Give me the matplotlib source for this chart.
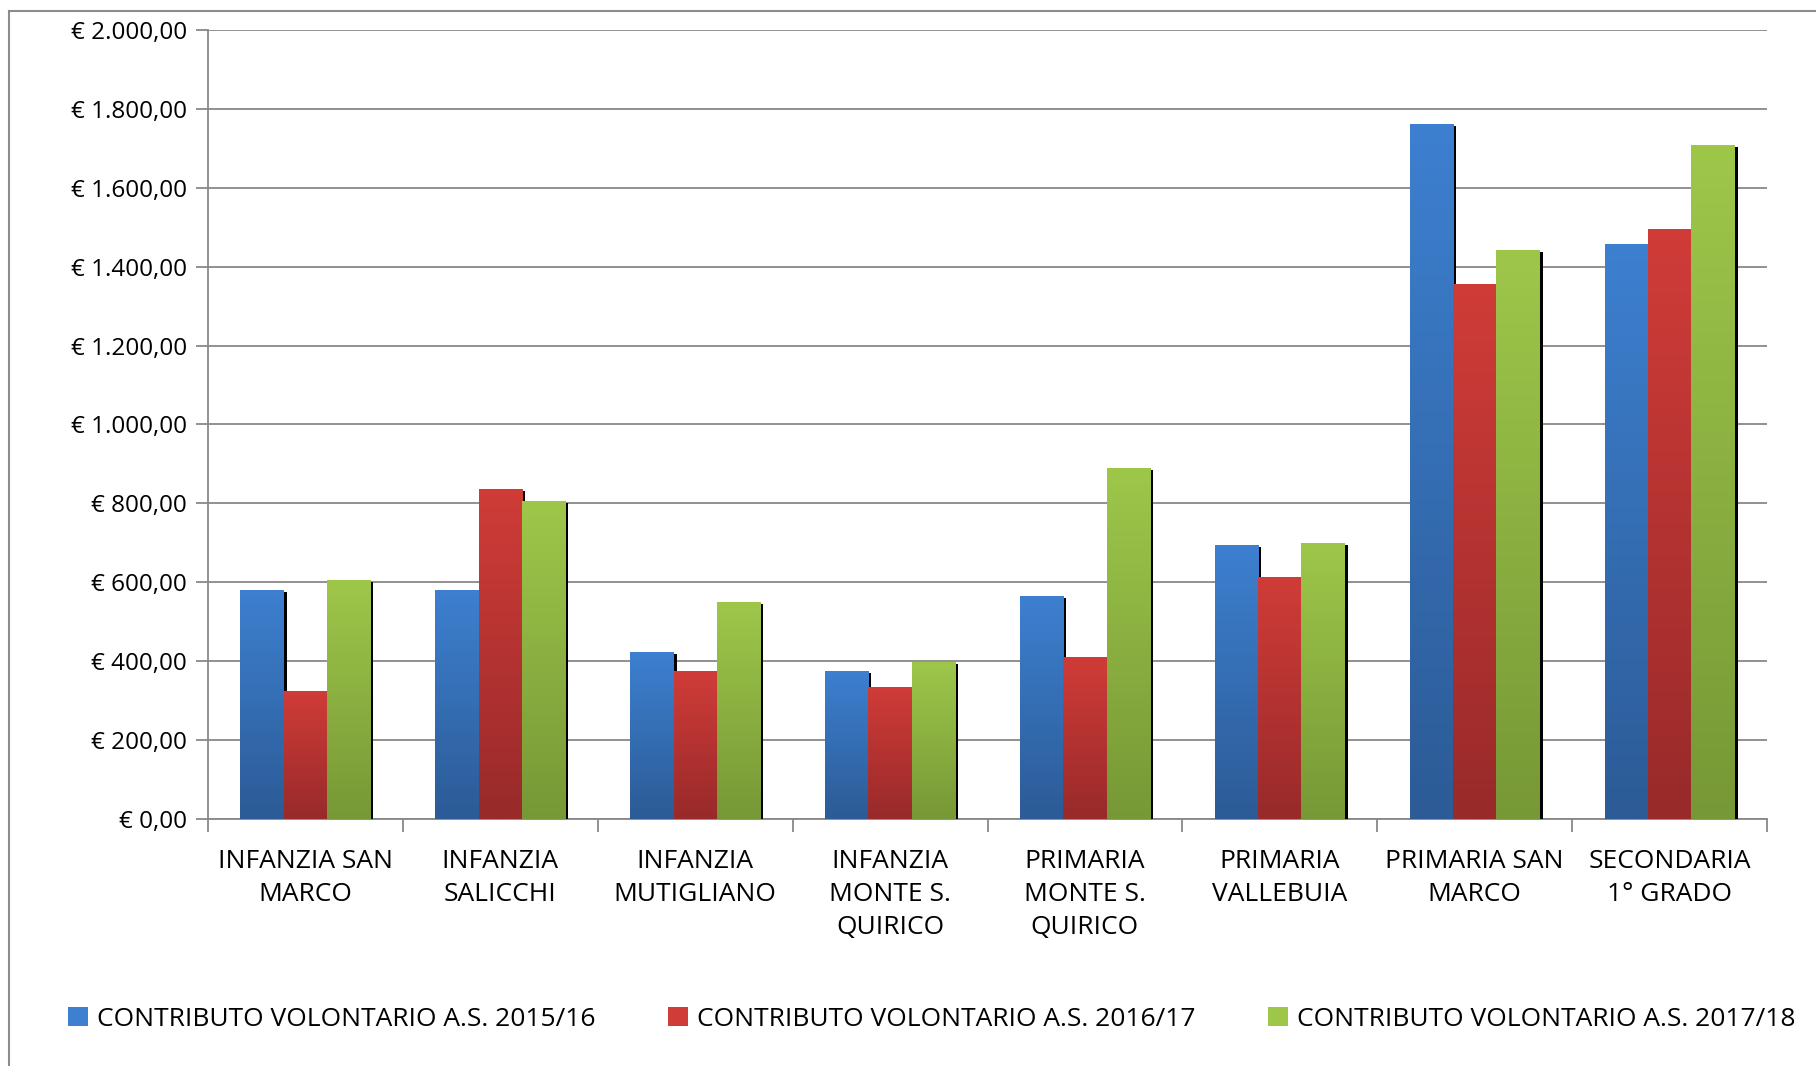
import numpy as np
import matplotlib
matplotlib.use("Agg")
import matplotlib.pyplot as plt
import matplotlib.transforms as mtransforms
from matplotlib.lines import Line2D
from matplotlib.patches import Patch

# Data
categories = ["INFANZIA SAN\nMARCO", "INFANZIA\nSALICCHI", "INFANZIA\nMUTIGLIANO",
              "INFANZIA\nMONTE S.\nQUIRICO", "PRIMARIA\nMONTE S.\nQUIRICO", "PRIMARIA\nVALLEBUIA",
              "PRIMARIA SAN\nMARCO", "SECONDARIA\n1° GRADO"]
seriesNames = ["CONTRIBUTO VOLONTARIO A.S. 2015/16",
               "CONTRIBUTO VOLONTARIO A.S. 2016/17",
               "CONTRIBUTO VOLONTARIO A.S. 2017/18"]
values2015 = [580, 580, 423, 376, 565, 695, 1762, 1458]
values2016 = [323, 837, 376, 335, 411, 614, 1357, 1495]
values2017 = [606, 805, 549, 397, 890, 700, 1443, 1709]
yTicks = [0, 200, 400, 600, 800, 1000, 1200, 1400, 1600, 1800, 2000]

# Colors (top, bottom of gradient)
gradients = [("#3d80d0", "#2c5b96"), ("#d03c38", "#982a2a"), ("#9ec74a", "#779836")]

plt.rcParams['font.family'] = ['Open Sans', 'DejaVu Sans']

fig = plt.figure(figsize=(18.16, 10.66), dpi=100)
ax = fig.add_axes([208/1816, 247.2/1066, (1767-208)/1816, (818.8-30.1)/1066])

# Outer chart border (left and top only visible)
fig.add_artist(Line2D([9/1816, 9/1816], [0, 1-11/1066], transform=fig.transFigure, color="#8c8c8c", lw=1.5))
fig.add_artist(Line2D([9/1816, 1], [1-11/1066, 1-11/1066], transform=fig.transFigure, color="#8c8c8c", lw=1.5))

x = np.arange(len(categories))
width = 1/4.5
allValues = [values2015, values2016, values2017]
shadowShift = ax.transData + mtransforms.ScaledTranslation(0.03, -0.02, fig.dpi_scale_trans)

for j, vals in enumerate(allValues):
	offs = x + (j-1)*width
	top, bottom = gradients[j]
	c0 = np.array(matplotlib.colors.to_rgb(bottom))
	c1 = np.array(matplotlib.colors.to_rgb(top))
	grad = np.linspace(0, 1, 256)[:, None, None]
	img = c0 + (c1-c0)*grad
	ax.bar(offs, vals, width, color="black", transform=shadowShift, zorder=2+2*j)
	bars = ax.bar(offs, vals, width, color=top, zorder=3+2*j, linewidth=0)
	for b in bars:
		x0 = b.get_x()
		h = b.get_height()
		im = ax.imshow(img, extent=(x0, x0+b.get_width(), 0, h), origin='lower',
			aspect='auto', zorder=3+2*j+0.5, interpolation='bilinear')
		im.set_clip_path(b)

ax.set_xlim(-0.5, len(categories)-0.5)
ax.set_ylim(0, 2000)
ax.set_aspect('auto')

# Grid and axes
ax.set_yticks(yTicks)
ax.set_yticklabels([("€ {:,.2f}".format(v)).replace(",", "X").replace(".", ",").replace("X", ".") for v in yTicks])
ax.yaxis.grid(True, color="#888888", lw=1.3)
ax.set_axisbelow(True)
ax.set_xticks(np.arange(len(categories)+1)-0.5)
ax.set_xticklabels([])
ax.set_xticks(x, minor=True)
ax.set_xticklabels(categories, minor=True, fontsize=19, linespacing=1.4)
ax.tick_params(axis='x', which='minor', length=0, pad=22)
ax.tick_params(axis='x', which='major', length=9, color="#888888", width=1.3)
ax.tick_params(axis='y', length=9, color="#888888", width=1.3, labelsize=17.5, pad=6)
for side in ['top', 'right']:
	ax.spines[side].set_visible(False)
for side in ['left', 'bottom']:
	ax.spines[side].set_color("#888888")
	ax.spines[side].set_linewidth(1.3)

# Legend
handles = [Patch(facecolor=gradients[j][0], edgecolor='none') for j in range(3)]
fig.legend(handles, seriesNames, loc='center', bbox_to_anchor=(0.513, 1-1019.5/1066), ncol=3,
	frameon=False, fontsize=19, handlelength=0.75, handleheight=0.75, handletextpad=0.35,
	columnspacing=2.75)

plt.savefig("out.png", dpi=100)
